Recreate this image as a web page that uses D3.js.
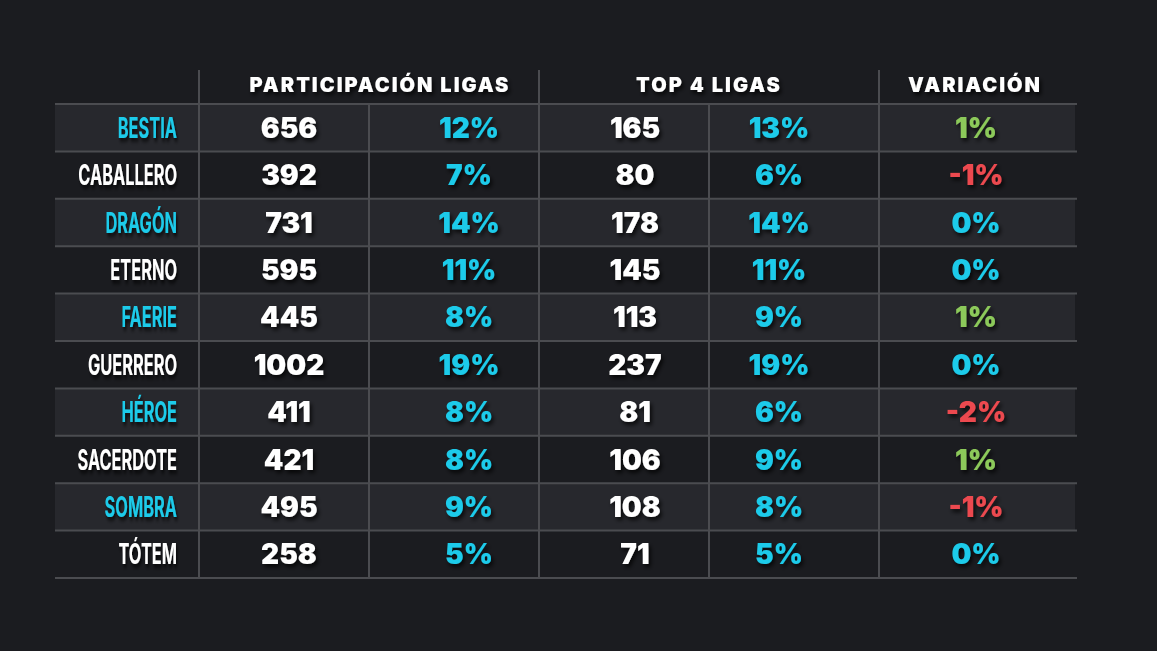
<!DOCTYPE html>
<html><head><meta charset="utf-8">
<script src="https://cdn.jsdelivr.net/npm/d3@7"></script>
<style>
html,body{margin:0;padding:0;background:#1b1c20;overflow:hidden}
svg{display:block}
</style></head>
<body>
<script>
const categories = ["BESTIA","CABALLERO","DRAGÓN","ETERNO","FAERIE","GUERRERO","HÉROE","SACERDOTE","SOMBRA","TÓTEM"];
const participacion = [656,392,731,595,445,1002,411,421,495,258];
const participacionPct = [12,7,14,11,8,19,8,8,9,5];
const top4 = [165,80,178,145,113,237,81,106,108,71];
const top4Pct = [13,6,14,11,9,19,6,9,8,5];
const variacion = [1,-1,0,0,1,0,-2,1,-1,0];
const headers = ["PARTICIPACIÓN LIGAS","TOP 4 LIGAS","VARIACIÓN"];

const W=1157,H=651;
const svg=d3.select("body").append("svg").attr("width",W).attr("height",H);
const defs=svg.append("defs");
const f=defs.append("filter").attr("id","sh").attr("x","-20%").attr("y","-40%").attr("width","140%").attr("height","180%");
f.append("feDropShadow").attr("dx",2).attr("dy",3).attr("stdDeviation",2).attr("flood-color","#000").attr("flood-opacity",0.8);

svg.append("rect").attr("width",W).attr("height",H).attr("fill","#1b1c20");

const y=d3.scaleBand().domain(categories).range([104,578]);
const colEdges=[55,199,369,539,709,879,1075];
const cyan="#1ecbea", green="#8cc95a", red="#ec4a4f", white="#ffffff";

// row shading
svg.append("g").selectAll("rect").data(categories).join("rect")
 .attr("x",colEdges[0]).attr("width",colEdges[6]-colEdges[0])
 .attr("y",d=>y(d)).attr("height",y.bandwidth())
 .attr("fill",(d,i)=>i%2===0?"#27282d":"#1b1c20");

// grid lines
const lineCol="#4b4c50";
const g=svg.append("g").attr("stroke",lineCol).attr("stroke-width",2);
g.selectAll("line.h").data(categories.concat(["_end"])).join("line")
 .attr("x1",colEdges[0]).attr("x2",colEdges[6]+2)
 .attr("y1",(d,i)=>i<categories.length?y(d):y.range()[1])
 .attr("y2",(d,i)=>i<categories.length?y(d):y.range()[1]);
[[199,70],[369,104],[539,70],[709,104],[879,70]].forEach(([x,t])=>{
  g.append("line").attr("x1",x).attr("x2",x).attr("y1",t).attr("y2",y.range()[1]);
});

// headers
const hx=[380,709,975];
svg.append("g").selectAll("text").data(headers).join("text")
 .attr("x",(d,i)=>hx[i]).attr("y",92).attr("text-anchor","middle")
 .attr("font-family","Inter, 'Open Sans', sans-serif").attr("font-weight",900)
 .attr("font-size",20).attr("letter-spacing",2).attr("fill",white).attr("filter","url(#sh)").text(d=>d);

const mid=d=>y(d)+y.bandwidth()/2;
// labels (condensed look via horizontal scaling)
svg.append("g").selectAll("text").data(categories).join("text")
 .attr("transform",d=>`translate(177,${mid(d)+10}) scale(0.63,1.08)`)
 .attr("text-anchor","end")
 .attr("font-family","Inter, 'DejaVu Sans', sans-serif")
 .attr("font-weight",700).attr("font-size",26)
 .attr("fill",(d,i)=>i%2===0?cyan:white).attr("filter","url(#sh)").text(d=>d);

function col(values,cx,colorFn,fmt){
  svg.append("g").selectAll("text").data(values).join("text")
   .attr("x",cx).attr("y",(d,i)=>mid(categories[i])+10).attr("text-anchor","middle")
   .attr("font-family","Inter, 'Open Sans', sans-serif").attr("font-weight",900)
   .attr("font-size",28).attr("fill",colorFn).attr("filter","url(#sh)").text(fmt);
}
col(participacion,289,()=>white,d=>d);
col(participacionPct,469,()=>cyan,d=>d+"%");
col(top4,635,()=>white,d=>d);
col(top4Pct,779,()=>cyan,d=>d+"%");
col(variacion,976,d=>d>0?green:(d<0?red:cyan),d=>d+"%");
</script>
</body></html>
